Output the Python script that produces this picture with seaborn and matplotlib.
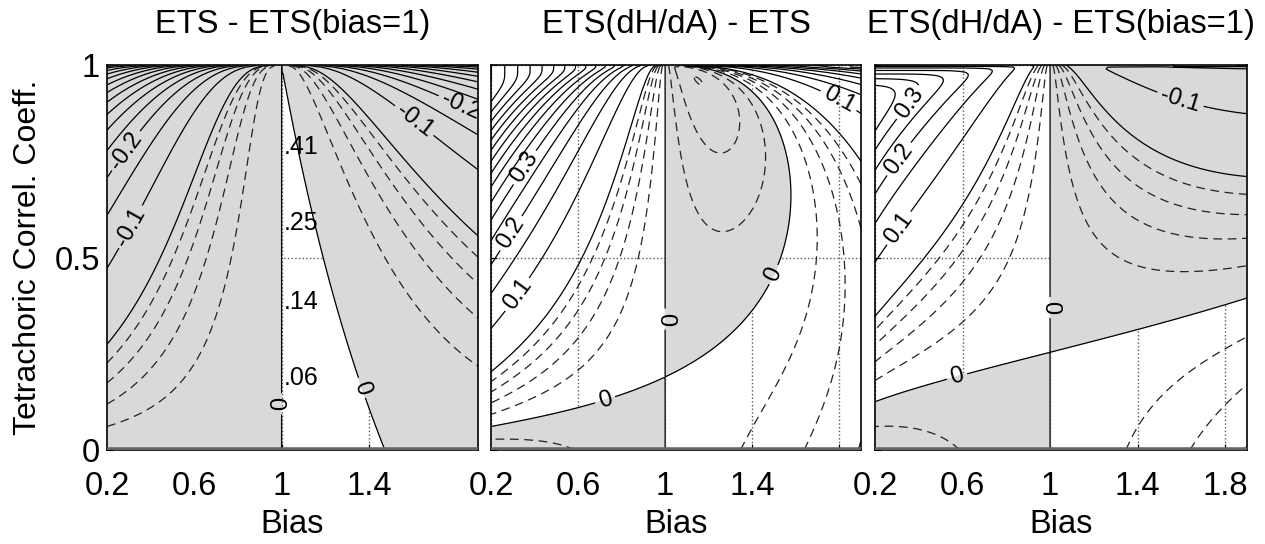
from statistics import NormalDist

import numpy as np
import matplotlib
matplotlib.use("Agg")
import matplotlib.pyplot as plt
import seaborn as sns

# --- values ---
base_rate = 0.3                      # observed frequency O (N = 1)
bias_range = [0.2, 1.9]
corr_range = [0.0, 1.0]
bias_ticks = [0.2, 0.6, 1.0, 1.4, 1.8]
corr_ticks = [0, 0.5, 1]
titles = ["ETS - ETS(bias=1)", "ETS(dH/dA) - ETS", "ETS(dH/dA) - ETS(bias=1)"]

solid_levels = [round(v, 2) for v in np.arange(-0.95, 0.96, 0.05)]
dashed_levels = [-0.04, -0.03, -0.02, -0.01, 0.01, 0.02, 0.03, 0.04]

# ETS at bias = 1 written next to the bias=1 line in panel 1
ets_b1_text = [".41", ".25", ".14", ".06"]
ets_b1_corr = [0.787, 0.59, 0.385, 0.187]

# contour label spots (bias, correlation) for each panel
label_spots = [
    [(0.28, 0.78), (0.34, 0.57), (1.60, 0.85), (1.81, 0.88), (1.005, 0.12), (1.36, 0.16)],
    [(0.365, 0.73), (0.30, 0.56), (0.33, 0.40), (1.79, 0.90), (1.52, 0.45), (0.995, 0.34), (0.73, 0.12)],
    [(0.36, 0.90), (0.30, 0.76), (0.30, 0.58), (1.59, 0.90), (0.995, 0.37), (0.58, 0.18)],
]


def hits(bias, corr, p):
    # P(X > a, Y > b) for a bivariate normal with correlation corr
    nd = NormalDist()
    b = nd.inv_cdf(1 - p)
    a = np.array([nd.inv_cdf(1 - bb * p) for bb in bias])[:, None, None]
    nodes, weights = np.polynomial.legendre.leggauss(80)
    top = np.arcsin(corr)[None, :, None]
    theta = top * (nodes[None, None, :] + 1) / 2
    c2 = np.cos(theta) ** 2
    f = np.exp(-(a ** 2 - 2 * a * b * np.sin(theta) + b ** 2) / (2 * c2))
    integral = (f * weights).sum(axis=-1) * top[..., 0] / 2
    fcst = (np.asarray(bias) * p)[:, None]
    return fcst * p + integral / (2 * np.pi)


def ets(h, f, o):
    hr = f * o
    return (h - hr) / (f + o - h - hr)


def lambert_w(x):
    w = np.log1p(x)
    for _ in range(60):
        ew = np.exp(w)
        w = w - (w * ew - x) / (ew * (w + 1))
    return w


bias = np.linspace(bias_range[0], bias_range[1], 241)
corr = np.linspace(0.0005, 0.999, 220)
O = base_rate
F = (bias * O)[:, None]

H = hits(bias, corr, O)
H1 = hits(np.array([1.0]), corr, O)

ets_b = ets(H, F, O)
ets_1 = ets(H1, O, O)

# dH/dA bias adjustment (A = false alarm area)
fa = np.clip(F - H, 1e-12, None)
miss = np.clip(O - H, 1e-12, None)
slope = np.log(O / miss) / fa
Ha = O - lambert_w(slope * O) / slope
ets_adj = ets(Ha, O, O)

fields = [ets_b - ets_1, ets_adj - ets_b, ets_adj - ets_1]

sns.set_style("ticks", {"xtick.direction": "in", "ytick.direction": "in"})
plt.rcParams["font.family"] = ["Liberation Sans", "DejaVu Sans"]
plt.rcParams.update({"text.color": "black", "axes.labelcolor": "black",
                     "xtick.color": "black", "ytick.color": "black"})

fig = plt.figure(figsize=(12.65, 5.44), dpi=100)
lefts = [107 / 1265, 491 / 1265, 875 / 1265]
widths = [371 / 1265, 370 / 1265, 372 / 1265]

BB, RR = np.meshgrid(bias, corr, indexing="ij")


def fmt(v):
    return "0" if abs(v) < 1e-9 else f"{v:g}"


for i, z in enumerate(fields):
    ax = fig.add_axes([lefts[i], 94 / 544, widths[i], 385 / 544])
    ax.contourf(BB, RR, z, levels=[-10, 0], colors=["#d9d9d9"])
    ax.contour(BB, RR, z, levels=dashed_levels, colors="#222222",
               linewidths=0.9, linestyles=[(0, (7, 4.5))])
    cs = ax.contour(BB, RR, z, levels=solid_levels, colors="black",
                    linewidths=0.9, linestyles="solid")
    ax.clabel(cs, manual=label_spots[i], fmt=fmt, fontsize=17, inline=True,
              inline_spacing=4)

    ax.set_xlim(bias_range)
    ax.set_ylim(corr_range)
    ax.set_xticks(bias_ticks)
    ax.set_xticklabels(["0.2", "0.6", "1", "1.4", "1.8" if i == 2 else ""])
    ax.set_yticks(corr_ticks)
    if i == 0:
        ax.set_yticklabels(["0", "0.5", "1"])
        ax.set_ylabel("Tetrachoric Correl. Coeff.", fontsize=23, labelpad=8)
    else:
        ax.set_yticklabels([])
    ax.grid(True, linestyle=":", color="0.35", linewidth=1)
    ax.axhline(0, color="0.4", linewidth=4, zorder=5)
    ax.tick_params(axis="x", labelsize=23.5, pad=15, length=4)
    ax.tick_params(axis="y", labelsize=23.5, pad=5, length=4)
    ax.set_xlabel("Bias", fontsize=23.5, labelpad=5)
    ax.set_title(titles[i], fontsize=23.5, pad=23)
    for s in ax.spines.values():
        s.set_linewidth(1.2)
        s.set_color("black")

    if i == 0:
        for txt, r in zip(ets_b1_text, ets_b1_corr):
            ax.text(1.012, r, txt, fontsize=18, va="center", ha="left")

fig.savefig("out.png", dpi=100)
